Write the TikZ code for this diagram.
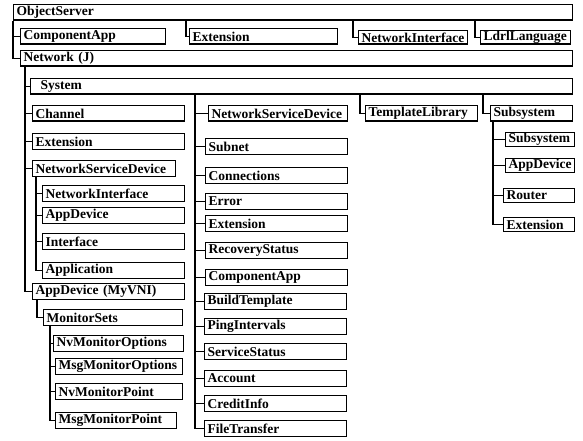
\documentclass[tikz,border=0pt]{standalone}
\usepackage{fontspec}
\setmainfont{Liberation Serif}
\usepackage{tikz}

\begin{document}
\begin{tikzpicture}[x=1pt,y=-1pt,
    box/.style={draw, line width=1.3pt, anchor=north west, inner xsep=3pt,
      inner ysep=0pt, minimum height=15.5pt, text width=#1, align=left,
      font=\bfseries\fontsize{13.5}{13.5}\selectfont},
    small/.style={minimum height=13.5pt},
    link/.style={line width=1.2pt}]
  \useasboundingbox (0,0) rectangle (583,441);

  % top level
  \node[box=553pt] (os) at (13,4) {ObjectServer};
  \node[box=139pt] (comp) at (20,28) {ComponentApp};
  \node[box=142pt] (ext1) at (189,28) {Extension};
  \node[box=103pt,small] (nif1) at (358,30) {NetworkInterface};
  \node[box=84pt,small] (ldrl) at (480,30) {LdrlLanguage};
  \node[box=546pt] (net) at (20,50) {Network (J)};
  \node[box=536pt] (sys) at (30,78) {\hspace*{7pt}System};

  % left column
  \node[box=146pt] (chan) at (32,105) {Channel};
  \node[box=146pt] (extl) at (32,133) {Extension};
  \node[box=137pt] (nsdl) at (32,160) {NetworkServiceDevice};
  \node[box=136pt] (nif2) at (42,185) {NetworkInterface};
  \node[box=136pt] (app1) at (42,207) {AppDevice};
  \node[box=136pt] (intf) at (42,233) {Interface};
  \node[box=136pt] (appl) at (42,262) {Application};
  \node[box=146pt] (appv) at (32,283) {AppDevice (MyVNI)};
  \node[box=133pt] (mon) at (43,309) {MonitorSets};
  \node[box=124pt] (nvo) at (53,335) {NvMonitorOptions};
  \node[box=121pt] (mso) at (55,358) {MsgMonitorOptions};
  \node[box=121pt] (nvp) at (55,383) {NvMonitorPoint};
  \node[box=115pt] (msp) at (55,412) {MsgMonitorPoint};

  % middle column
  \node[box=133pt] (nsdm) at (208,105) {NetworkServiceDevice};
  \node[box=136pt] (subn) at (205,138) {Subnet};
  \node[box=136pt] (conn) at (205,167) {Connections};
  \node[box=136pt] (err) at (205,193) {Error};
  \node[box=136pt] (extm) at (205,215) {Extension};
  \node[box=136pt] (rec) at (205,242) {RecoveryStatus};
  \node[box=136pt] (compm) at (205,269) {ComponentApp};
  \node[box=136pt] (bld) at (204,293) {BuildTemplate};
  \node[box=136pt] (ping) at (204,318) {PingIntervals};
  \node[box=136pt] (svc) at (204,343) {ServiceStatus};
  \node[box=136pt] (acct) at (204,370) {Account};
  \node[box=136pt] (cred) at (204,395) {CreditInfo};
  \node[box=136pt] (ftr) at (204,420) {FileTransfer};

  % right column
  \node[box=106pt] (tl) at (365,105) {TemplateLibrary};
  \node[box=76pt] (ssh) at (490,105) {Subsystem};
  \node[box=63pt,small] (ss) at (505,132) {Subsystem};
  \node[box=63pt,small] (ad2) at (505,158) {AppDevice};
  \node[box=65pt,small] (rtr) at (503,188) {Router};
  \node[box=65pt,small] (ext3) at (503,217) {Extension};

  % connectors
  \draw[link] (os.south west) |- (comp.west);
  \draw[link] (os.south west) |- (net.west);
  \draw[link] ([xshift=-3pt]ext1.west |- os.south) |- (ext1.west);
  \draw[link] ([xshift=-5pt]nif1.west |- os.south) |- (nif1.west);
  \draw[link] ([xshift=-5pt]ldrl.west |- os.south) |- (ldrl.west);
  \foreach \c in {sys,chan,extl,nsdl,appv}
    \draw[link] ([xshift=5pt]net.south west) |- (\c.west);
  \foreach \c in {nif2,app1,intf,appl}
    \draw[link] ([xshift=4pt]nsdl.south west) |- (\c.west);
  \draw[link] ([xshift=5pt]appv.south west) |- (mon.west);
  \foreach \c in {nvo,mso,nvp,msp}
    \draw[link] ([xshift=7pt]mon.south west) |- (\c.west);
  \foreach \c in {nsdm,subn,conn,err,extm,rec,compm,bld,ping,svc,acct,cred,ftr}
    \draw[link] ([xshift=-13pt]nsdm.west |- sys.south) |- (\c.west);
  \draw[link] ([xshift=-5pt]tl.west |- sys.south) |- (tl.west);
  \draw[link] ([xshift=-7pt]ssh.west |- sys.south) |- (ssh.west);
  \foreach \c in {ss,ad2,rtr,ext3}
    \draw[link] ([xshift=3pt]ssh.south west) |- (\c.west);
\end{tikzpicture}
\end{document}
